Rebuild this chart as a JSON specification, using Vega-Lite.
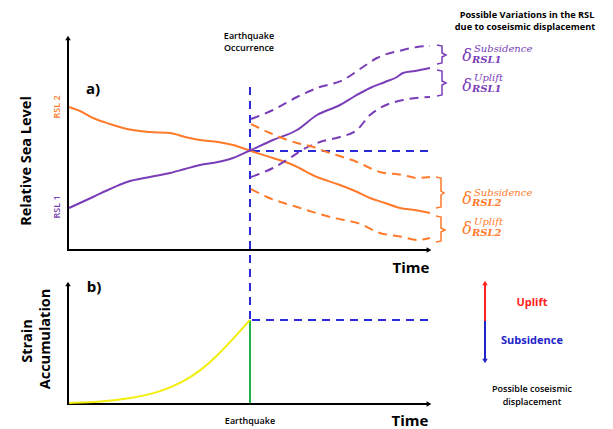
{
  "$schema": "https://vega.github.io/schema/vega-lite/v6.json",
  "width": 613,
  "height": 429,
  "autosize": {"type": "fit", "contains": "padding"},
  "padding": 0,
  "background": "white",
  "config": {"view": {"stroke": null}},
  "datasets": {
    "solidCurves": [
      {"curve": "rsl2", "series": "RSL 2", "x": 69, "y": 107}, {"curve": "rsl2", "series": "RSL 2", "x": 80, "y": 111},
      {"curve": "rsl2", "series": "RSL 2", "x": 93, "y": 118}, {"curve": "rsl2", "series": "RSL 2", "x": 110, "y": 124},
      {"curve": "rsl2", "series": "RSL 2", "x": 127, "y": 129}, {"curve": "rsl2", "series": "RSL 2", "x": 150, "y": 132},
      {"curve": "rsl2", "series": "RSL 2", "x": 170, "y": 133}, {"curve": "rsl2", "series": "RSL 2", "x": 185, "y": 137},
      {"curve": "rsl2", "series": "RSL 2", "x": 200, "y": 140}, {"curve": "rsl2", "series": "RSL 2", "x": 218, "y": 142},
      {"curve": "rsl2", "series": "RSL 2", "x": 233, "y": 145}, {"curve": "rsl2", "series": "RSL 2", "x": 251, "y": 151},
      {"curve": "rsl2", "series": "RSL 2", "x": 273, "y": 158}, {"curve": "rsl2", "series": "RSL 2", "x": 293, "y": 165},
      {"curve": "rsl2", "series": "RSL 2", "x": 317, "y": 177}, {"curve": "rsl2", "series": "RSL 2", "x": 340, "y": 185},
      {"curve": "rsl2", "series": "RSL 2", "x": 355, "y": 191}, {"curve": "rsl2", "series": "RSL 2", "x": 370, "y": 198},
      {"curve": "rsl2", "series": "RSL 2", "x": 385, "y": 203}, {"curve": "rsl2", "series": "RSL 2", "x": 400, "y": 208},
      {"curve": "rsl2", "series": "RSL 2", "x": 415, "y": 210}, {"curve": "rsl2", "series": "RSL 2", "x": 430, "y": 213},
      {"curve": "rsl1", "series": "RSL 1", "x": 69, "y": 208}, {"curve": "rsl1", "series": "RSL 1", "x": 80, "y": 203},
      {"curve": "rsl1", "series": "RSL 1", "x": 93, "y": 197}, {"curve": "rsl1", "series": "RSL 1", "x": 110, "y": 189},
      {"curve": "rsl1", "series": "RSL 1", "x": 127, "y": 182}, {"curve": "rsl1", "series": "RSL 1", "x": 150, "y": 177},
      {"curve": "rsl1", "series": "RSL 1", "x": 170, "y": 173}, {"curve": "rsl1", "series": "RSL 1", "x": 185, "y": 169},
      {"curve": "rsl1", "series": "RSL 1", "x": 200, "y": 165}, {"curve": "rsl1", "series": "RSL 1", "x": 218, "y": 162},
      {"curve": "rsl1", "series": "RSL 1", "x": 233, "y": 158}, {"curve": "rsl1", "series": "RSL 1", "x": 251, "y": 150},
      {"curve": "rsl1", "series": "RSL 1", "x": 273, "y": 140}, {"curve": "rsl1", "series": "RSL 1", "x": 297, "y": 130},
      {"curve": "rsl1", "series": "RSL 1", "x": 317, "y": 115}, {"curve": "rsl1", "series": "RSL 1", "x": 340, "y": 105},
      {"curve": "rsl1", "series": "RSL 1", "x": 355, "y": 96}, {"curve": "rsl1", "series": "RSL 1", "x": 370, "y": 88},
      {"curve": "rsl1", "series": "RSL 1", "x": 385, "y": 82}, {"curve": "rsl1", "series": "RSL 1", "x": 397, "y": 77},
      {"curve": "rsl1", "series": "RSL 1", "x": 403, "y": 73}, {"curve": "rsl1", "series": "RSL 1", "x": 415, "y": 71},
      {"curve": "rsl1", "series": "RSL 1", "x": 430, "y": 68}
    ],
    "strainCurve": [
      {"curve": "strain", "series": "Strain", "x": 69, "y": 403}, {"curve": "strain", "series": "Strain", "x": 100, "y": 402},
      {"curve": "strain", "series": "Strain", "x": 133, "y": 398}, {"curve": "strain", "series": "Strain", "x": 160, "y": 392},
      {"curve": "strain", "series": "Strain", "x": 183, "y": 382}, {"curve": "strain", "series": "Strain", "x": 200, "y": 371},
      {"curve": "strain", "series": "Strain", "x": 217, "y": 356}, {"curve": "strain", "series": "Strain", "x": 233, "y": 339},
      {"curve": "strain", "series": "Strain", "x": 250, "y": 320}
    ],
    "dashedCurves": [
      {"curve": "r1s", "series": "RSL 1", "x": 251, "y": 119}, {"curve": "r1s", "series": "RSL 1", "x": 273, "y": 110},
      {"curve": "r1s", "series": "RSL 1", "x": 297, "y": 97}, {"curve": "r1s", "series": "RSL 1", "x": 317, "y": 88},
      {"curve": "r1s", "series": "RSL 1", "x": 343, "y": 80}, {"curve": "r1s", "series": "RSL 1", "x": 363, "y": 67},
      {"curve": "r1s", "series": "RSL 1", "x": 377, "y": 58}, {"curve": "r1s", "series": "RSL 1", "x": 403, "y": 50},
      {"curve": "r1s", "series": "RSL 1", "x": 417, "y": 47}, {"curve": "r1s", "series": "RSL 1", "x": 430, "y": 46},
      {"curve": "r1u", "series": "RSL 1", "x": 251, "y": 177}, {"curve": "r1u", "series": "RSL 1", "x": 273, "y": 168},
      {"curve": "r1u", "series": "RSL 1", "x": 290, "y": 158}, {"curve": "r1u", "series": "RSL 1", "x": 302, "y": 150},
      {"curve": "r1u", "series": "RSL 1", "x": 320, "y": 142}, {"curve": "r1u", "series": "RSL 1", "x": 340, "y": 137},
      {"curve": "r1u", "series": "RSL 1", "x": 357, "y": 130}, {"curve": "r1u", "series": "RSL 1", "x": 370, "y": 115},
      {"curve": "r1u", "series": "RSL 1", "x": 380, "y": 108}, {"curve": "r1u", "series": "RSL 1", "x": 403, "y": 100},
      {"curve": "r1u", "series": "RSL 1", "x": 430, "y": 97},
      {"curve": "r2s", "series": "RSL 2", "x": 251, "y": 124}, {"curve": "r2s", "series": "RSL 2", "x": 270, "y": 133},
      {"curve": "r2s", "series": "RSL 2", "x": 297, "y": 143}, {"curve": "r2s", "series": "RSL 2", "x": 310, "y": 146},
      {"curve": "r2s", "series": "RSL 2", "x": 327, "y": 152}, {"curve": "r2s", "series": "RSL 2", "x": 357, "y": 162},
      {"curve": "r2s", "series": "RSL 2", "x": 380, "y": 172}, {"curve": "r2s", "series": "RSL 2", "x": 403, "y": 175},
      {"curve": "r2s", "series": "RSL 2", "x": 417, "y": 178}, {"curve": "r2s", "series": "RSL 2", "x": 430, "y": 177},
      {"curve": "r2u", "series": "RSL 2", "x": 251, "y": 189}, {"curve": "r2u", "series": "RSL 2", "x": 267, "y": 197},
      {"curve": "r2u", "series": "RSL 2", "x": 297, "y": 207}, {"curve": "r2u", "series": "RSL 2", "x": 330, "y": 217},
      {"curve": "r2u", "series": "RSL 2", "x": 363, "y": 225}, {"curve": "r2u", "series": "RSL 2", "x": 377, "y": 232},
      {"curve": "r2u", "series": "RSL 2", "x": 403, "y": 237}, {"curve": "r2u", "series": "RSL 2", "x": 417, "y": 240},
      {"curve": "r2u", "series": "RSL 2", "x": 430, "y": 238}
    ],
    "solidRules": [
      {"series": "Axis", "x": 68, "x2": 68, "y": 40, "y2": 251},
      {"series": "Axis", "x": 67, "x2": 428, "y": 250, "y2": 250},
      {"series": "Axis", "x": 68, "x2": 68, "y": 286, "y2": 405},
      {"series": "Axis", "x": 67, "x2": 428, "y": 404, "y2": 404},
      {"series": "Rupture", "x": 250, "x2": 250, "y": 320, "y2": 403},
      {"series": "Uplift", "x": 485, "x2": 485, "y": 285, "y2": 321},
      {"series": "Subsidence", "x": 485, "x2": 485, "y": 321, "y2": 359}
    ],
    "dashedRules": [
      {"series": "Earthquake", "x": 250, "x2": 250, "y": 87, "y2": 320},
      {"series": "Earthquake", "x": 252, "x2": 430, "y": 151, "y2": 151},
      {"series": "Earthquake", "x": 252, "x2": 430, "y": 320, "y2": 320}
    ],
    "heads": [
      {"series": "Axis", "dir": "up", "x": 68, "y": 38},
      {"series": "Axis", "dir": "up", "x": 68, "y": 284},
      {"series": "Axis", "dir": "right", "x": 429, "y": 250},
      {"series": "Axis", "dir": "right", "x": 429, "y": 404},
      {"series": "Uplift", "dir": "up", "x": 485, "y": 283},
      {"series": "Subsidence", "dir": "down", "x": 485, "y": 361}
    ],
    "brackets": [
      {"b": "1s", "series": "RSL 1", "k": 1, "x": 437, "y": 45}, {"b": "1s", "series": "RSL 1", "k": 2, "x": 442, "y": 46},
      {"b": "1s", "series": "RSL 1", "k": 3, "x": 442, "y": 53}, {"b": "1s", "series": "RSL 1", "k": 4, "x": 446, "y": 55},
      {"b": "1s", "series": "RSL 1", "k": 5, "x": 442, "y": 57}, {"b": "1s", "series": "RSL 1", "k": 6, "x": 442, "y": 63},
      {"b": "1s", "series": "RSL 1", "k": 7, "x": 437, "y": 64},
      {"b": "1u", "series": "RSL 1", "k": 1, "x": 437, "y": 70}, {"b": "1u", "series": "RSL 1", "k": 2, "x": 442, "y": 71},
      {"b": "1u", "series": "RSL 1", "k": 3, "x": 442, "y": 81}, {"b": "1u", "series": "RSL 1", "k": 4, "x": 446, "y": 83},
      {"b": "1u", "series": "RSL 1", "k": 5, "x": 442, "y": 85}, {"b": "1u", "series": "RSL 1", "k": 6, "x": 442, "y": 95},
      {"b": "1u", "series": "RSL 1", "k": 7, "x": 437, "y": 96},
      {"b": "2s", "series": "RSL 2", "k": 1, "x": 436, "y": 177}, {"b": "2s", "series": "RSL 2", "k": 2, "x": 441, "y": 178},
      {"b": "2s", "series": "RSL 2", "k": 3, "x": 441, "y": 191}, {"b": "2s", "series": "RSL 2", "k": 4, "x": 444, "y": 193},
      {"b": "2s", "series": "RSL 2", "k": 5, "x": 441, "y": 195}, {"b": "2s", "series": "RSL 2", "k": 6, "x": 441, "y": 207},
      {"b": "2s", "series": "RSL 2", "k": 7, "x": 436, "y": 208},
      {"b": "2u", "series": "RSL 2", "k": 1, "x": 436, "y": 216}, {"b": "2u", "series": "RSL 2", "k": 2, "x": 441, "y": 217},
      {"b": "2u", "series": "RSL 2", "k": 3, "x": 441, "y": 228}, {"b": "2u", "series": "RSL 2", "k": 4, "x": 445, "y": 230},
      {"b": "2u", "series": "RSL 2", "k": 5, "x": 441, "y": 232}, {"b": "2u", "series": "RSL 2", "k": 6, "x": 441, "y": 241},
      {"b": "2u", "series": "RSL 2", "k": 7, "x": 436, "y": 242}
    ],
    "smallBold": [
      {"series": "Axis", "text": "Possible Variations in the RSL", "x": 527, "y": 15},
      {"series": "Axis", "text": "due to coseismic displacement", "x": 525, "y": 27}
    ],
    "smallText": [
      {"series": "Axis", "text": "Earthquake", "x": 249, "y": 36},
      {"series": "Axis", "text": "Occurrence", "x": 249, "y": 48},
      {"series": "Axis", "text": "Possible coseismic", "x": 532, "y": 389},
      {"series": "Axis", "text": "displacement", "x": 532, "y": 402},
      {"series": "Axis", "text": "Earthquake", "x": 250, "y": 421}
    ],
    "bigBold": [
      {"series": "Axis", "text": "a)", "x": 93, "y": 89},
      {"series": "Axis", "text": "b)", "x": 94, "y": 287},
      {"series": "Axis", "text": "Time", "x": 411, "y": 268},
      {"series": "Axis", "text": "Time", "x": 410, "y": 421}
    ],
    "rotBold": [
      {"series": "Axis", "text": "Relative Sea Level", "x": 27, "y": 161},
      {"series": "Axis", "text": "Strain", "x": 28, "y": 341},
      {"series": "Axis", "text": "Accumulation", "x": 46, "y": 339}
    ],
    "rotSmall": [
      {"series": "RSL 2", "text": "RSL 2", "x": 57, "y": 107},
      {"series": "RSL 1", "text": "RSL 1", "x": 57, "y": 207}
    ],
    "motion": [
      {"series": "Uplift", "text": "Uplift", "x": 532, "y": 303},
      {"series": "Subsidence", "text": "Subsidence", "x": 532, "y": 341}
    ],
    "delta": [
      {"series": "RSL 1", "text": "δ", "x": 467, "y": 56},
      {"series": "RSL 1", "text": "δ", "x": 467, "y": 86},
      {"series": "RSL 2", "text": "δ", "x": 467, "y": 199},
      {"series": "RSL 2", "text": "δ", "x": 467, "y": 229}
    ],
    "deltaSup": [
      {"series": "RSL 1", "text": "Subsidence", "x": 474, "y": 49},
      {"series": "RSL 1", "text": "Uplift", "x": 474, "y": 78},
      {"series": "RSL 2", "text": "Subsidence", "x": 474, "y": 193},
      {"series": "RSL 2", "text": "Uplift", "x": 474, "y": 222}
    ],
    "deltaSub": [
      {"series": "RSL 1", "text": "RSL1", "x": 472, "y": 60},
      {"series": "RSL 1", "text": "RSL1", "x": 472, "y": 89},
      {"series": "RSL 2", "text": "RSL2", "x": 472, "y": 203},
      {"series": "RSL 2", "text": "RSL2", "x": 472, "y": 233}
    ]
  },
  "encoding": {
    "x": {"field": "x", "type": "quantitative", "scale": {"domain": [0, 613], "nice": false, "zero": false}, "axis": null},
    "y": {"field": "y", "type": "quantitative", "scale": {"domain": [0, 429], "reverse": true, "nice": false, "zero": false}, "axis": null},
    "color": {
      "field": "series", "type": "nominal", "legend": null,
      "scale": {
        "domain": ["Axis", "RSL 1", "RSL 2", "Earthquake", "Strain", "Rupture", "Uplift", "Subsidence"],
        "range": ["#000000", "#7a3db8", "#ff7a2b", "#2a2ad8", "#f2ee0a", "#21b24b", "#ff2020", "#2323c8"]
      }
    }
  },
  "layer": [
    {"data": {"name": "solidRules"}, "mark": {"type": "rule", "strokeWidth": 2},
     "encoding": {"x2": {"field": "x2"}, "y2": {"field": "y2"}}},
    {"data": {"name": "dashedRules"}, "mark": {"type": "rule", "strokeWidth": 2, "strokeDash": [8, 6]},
     "encoding": {"x2": {"field": "x2"}, "y2": {"field": "y2"}}},
    {"data": {"name": "solidCurves"}, "mark": {"type": "line", "strokeWidth": 2, "interpolate": "monotone"},
     "encoding": {"detail": {"field": "curve"}}},
    {"data": {"name": "strainCurve"}, "mark": {"type": "line", "strokeWidth": 2, "interpolate": "basis"},
     "encoding": {"detail": {"field": "curve"}}},
    {"data": {"name": "dashedCurves"}, "mark": {"type": "line", "strokeWidth": 2, "strokeDash": [9, 6], "interpolate": "monotone"},
     "encoding": {"detail": {"field": "curve"}}},
    {"data": {"name": "brackets"}, "mark": {"type": "line", "strokeWidth": 1.5},
     "encoding": {"detail": {"field": "b"}, "order": {"field": "k"}}},
    {"data": {"name": "heads"}, "mark": {"type": "point", "filled": true, "size": 30, "opacity": 1},
     "encoding": {"shape": {"field": "dir", "type": "nominal", "legend": null,
       "scale": {"domain": ["up", "right", "down"], "range": ["triangle-up", "triangle-right", "triangle-down"]}}}},
    {"data": {"name": "smallBold"}, "mark": {"type": "text", "font": "Open Sans", "fontSize": 9.2, "fontWeight": "bold", "align": "center", "baseline": "middle"},
     "encoding": {"text": {"field": "text"}}},
    {"data": {"name": "smallText"}, "mark": {"type": "text", "font": "Open Sans", "fontSize": 9, "fontWeight": 600, "align": "center", "baseline": "middle"},
     "encoding": {"text": {"field": "text"}}},
    {"data": {"name": "bigBold"}, "mark": {"type": "text", "font": "Open Sans", "fontSize": 15, "fontWeight": "bold", "align": "center", "baseline": "middle"},
     "encoding": {"text": {"field": "text"}}},
    {"data": {"name": "rotBold"}, "mark": {"type": "text", "font": "Open Sans", "fontSize": 14.5, "fontWeight": "bold", "align": "center", "baseline": "middle", "angle": 270},
     "encoding": {"text": {"field": "text"}}},
    {"data": {"name": "rotSmall"}, "mark": {"type": "text", "font": "Open Sans", "fontSize": 9, "fontWeight": 600, "align": "center", "baseline": "middle", "angle": 270},
     "encoding": {"text": {"field": "text"}}},
    {"data": {"name": "motion"}, "mark": {"type": "text", "font": "Open Sans", "fontSize": 11, "fontWeight": "bold", "align": "center", "baseline": "middle"},
     "encoding": {"text": {"field": "text"}}},
    {"data": {"name": "delta"}, "mark": {"type": "text", "font": "DejaVu Serif", "fontSize": 16, "fontStyle": "italic", "align": "center", "baseline": "middle"},
     "encoding": {"text": {"field": "text"}}},
    {"data": {"name": "deltaSup"}, "mark": {"type": "text", "font": "DejaVu Serif", "fontSize": 10, "fontStyle": "italic", "align": "left", "baseline": "middle"},
     "encoding": {"text": {"field": "text"}}},
    {"data": {"name": "deltaSub"}, "mark": {"type": "text", "font": "DejaVu Serif", "fontSize": 10, "fontStyle": "italic", "fontWeight": "bold", "align": "left", "baseline": "middle"},
     "encoding": {"text": {"field": "text"}}}
  ]
}
